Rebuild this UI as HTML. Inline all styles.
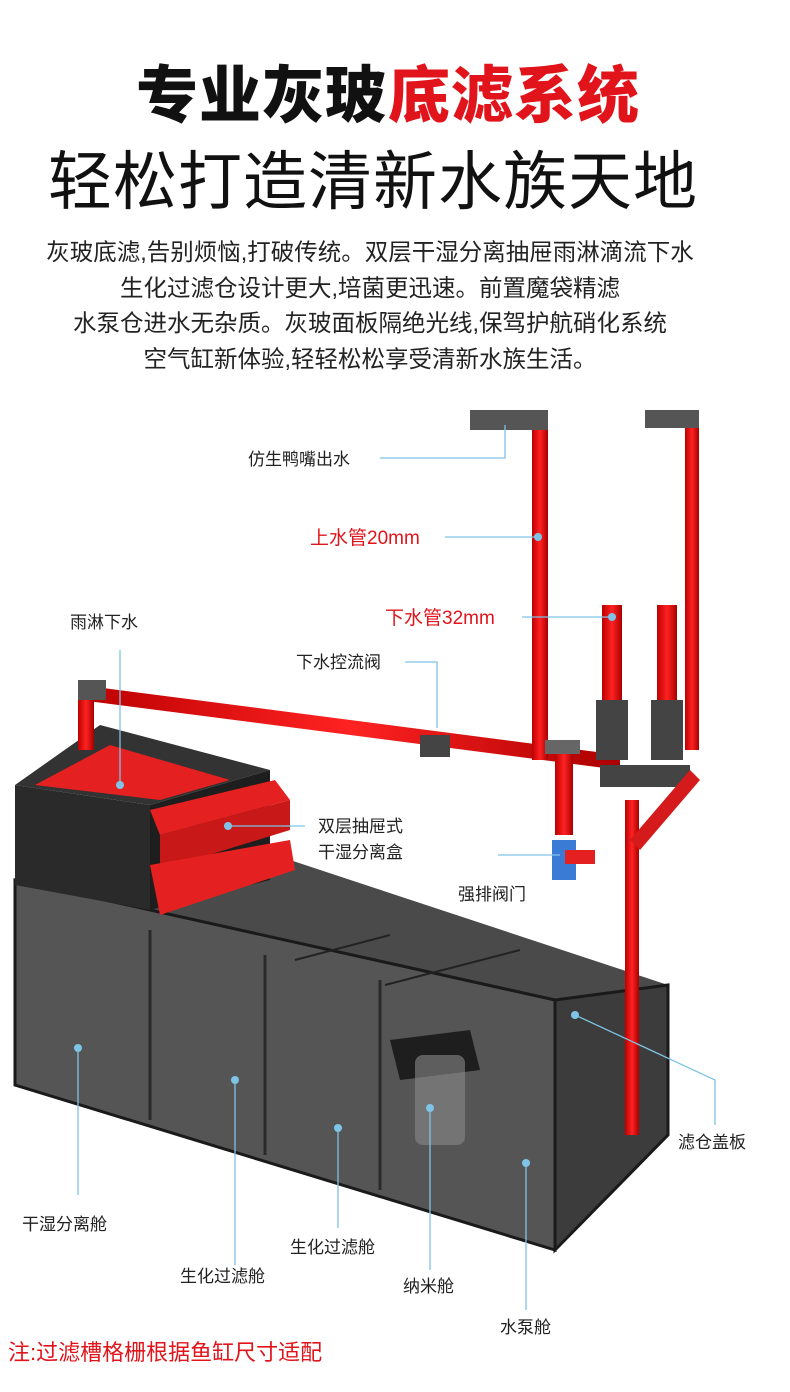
<!DOCTYPE html>
<html><head><meta charset="utf-8">
<style>
html,body{margin:0;padding:0;background:#fff;}
body{width:790px;height:1392px;position:relative;overflow:hidden;font-family:"Liberation Sans","Noto Sans CJK SC",sans-serif;}
.t1{position:absolute;top:62px;left:0;width:776px;text-align:center;font-size:62px;line-height:70px;font-weight:900;letter-spacing:1px;color:#111;}
.t1 span{color:#e0141a;}
.t2{position:absolute;top:144px;left:0;width:746px;text-align:center;font-size:64px;line-height:76px;color:#111;letter-spacing:1px;}
.p{position:absolute;left:0;width:740px;text-align:center;font-size:23.5px;color:#222;}
svg{position:absolute;left:0;top:0;}
</style></head><body>
<div class="t1">专业灰玻<span>底滤系统</span></div>
<div class="t2">轻松打造清新水族天地</div>
<div class="p" style="top:233px">灰玻底滤,告别烦恼,打破传统。双层干湿分离抽屉雨淋滴流下水</div>
<div class="p" style="top:269px">生化过滤仓设计更大,培菌更迅速。前置魔袋精滤</div>
<div class="p" style="top:304px">水泵仓进水无杂质。灰玻面板隔绝光线,保驾护航硝化系统</div>
<div class="p" style="top:340px">空气缸新体验,轻轻松松享受清新水族生活。</div>

<svg width="790" height="1392" viewBox="0 0 790 1392">
<defs>
<linearGradient id="r" x1="0" x2="1"><stop offset="0" stop-color="#b00"/><stop offset=".5" stop-color="#f22"/><stop offset="1" stop-color="#a00"/></linearGradient>
</defs>
<polygon points="15,880 290,860 668,985 555,1000" fill="#4a4a4a"/>
<polygon points="15,880 555,1000 555,1250 15,1085" fill="#555"/>
<polygon points="555,1000 668,985 668,1135 555,1250" fill="#3c3c3c"/>
<polygon points="15,880 555,1000 555,1250 15,1085" fill="none" stroke="#1a1a1a" stroke-width="3"/>
<polygon points="555,1000 668,985 668,1135 555,1250" fill="none" stroke="#1a1a1a" stroke-width="3"/>
<line x1="150" y1="930" x2="150" y2="1120" stroke="#2a2a2a" stroke-width="3"/>
<line x1="265" y1="955" x2="265" y2="1155" stroke="#2a2a2a" stroke-width="3"/>
<line x1="380" y1="980" x2="380" y2="1190" stroke="#2a2a2a" stroke-width="3"/>
<line x1="295" y1="960" x2="390" y2="935" stroke="#222" stroke-width="2"/>
<line x1="385" y1="985" x2="520" y2="950" stroke="#222" stroke-width="2"/>
<polygon points="390,1040 470,1030 480,1070 400,1080" fill="#1e1e1e"/>
<rect x="415" y="1055" width="50" height="90" rx="8" fill="#888" opacity=".6"/>
<polygon points="15,785 100,725 270,770 150,805" fill="#333"/>
<polygon points="15,785 150,805 150,910 15,885" fill="#2a2a2a"/>
<polygon points="150,805 270,770 270,880 150,910" fill="#1e1e1e"/>
<polygon points="35,785 110,745 230,780 160,800" fill="#e52020"/>
<polygon points="150,810 275,780 290,800 160,835" fill="#e52020"/>
<polygon points="160,835 290,800 290,830 160,870" fill="#c81818"/>
<polygon points="150,865 290,840 295,870 160,915" fill="#e52020"/>
<polygon points="80,685 620,755 620,770 80,700" fill="url(#r)"/>
<rect x="78" y="685" width="16" height="65" fill="url(#r)"/>
<rect x="78" y="680" width="28" height="20" fill="#555"/>
<rect x="532" y="425" width="16" height="335" fill="url(#r)"/>
<rect x="470" y="410" width="78" height="20" fill="#555"/>
<rect x="685" y="420" width="14" height="330" fill="url(#r)"/>
<rect x="645" y="410" width="54" height="18" fill="#555"/>
<rect x="602" y="605" width="20" height="100" fill="url(#r)"/>
<rect x="657" y="605" width="20" height="100" fill="url(#r)"/>
<rect x="596" y="700" width="32" height="60" fill="#444"/>
<rect x="651" y="700" width="32" height="60" fill="#444"/>
<rect x="600" y="765" width="90" height="22" fill="#444"/>
<rect x="625" y="800" width="14" height="335" fill="url(#r)"/>
<polygon points="630,840 690,770 700,780 640,850" fill="#d41a1a"/>
<rect x="555" y="745" width="18" height="90" fill="url(#r)"/>
<rect x="545" y="740" width="35" height="14" fill="#666"/>
<rect x="552" y="840" width="24" height="40" fill="#3a7bd5"/>
<rect x="565" y="850" width="30" height="14" fill="#e52020"/>
<rect x="420" y="735" width="30" height="22" fill="#444"/>
<g stroke="#7fc4e6" stroke-width="1.3" fill="none">
<polyline points="380,458 505,458 505,425"/>
<line x1="445" y1="537" x2="538" y2="537"/>
<line x1="522" y1="617" x2="612" y2="617"/>
<polyline points="405,662 437,662 437,728"/>
<line x1="120" y1="650" x2="120" y2="785"/>
<line x1="228" y1="826" x2="305" y2="826"/>
<polyline points="498,855 560,855"/>
<polyline points="575,1015 715,1080 715,1125"/>
<line x1="78" y1="1048" x2="78" y2="1195"/>
<line x1="235" y1="1080" x2="235" y2="1265"/>
<line x1="338" y1="1128" x2="338" y2="1228"/>
<line x1="430" y1="1108" x2="430" y2="1270"/>
<line x1="526" y1="1163" x2="526" y2="1310"/>
</g>
<g fill="#7fc4e6"><circle cx="538" cy="537" r="4"/><circle cx="612" cy="617" r="4"/><circle cx="120" cy="785" r="4"/><circle cx="228" cy="826" r="4"/><circle cx="575" cy="1015" r="4"/><circle cx="78" cy="1048" r="4"/><circle cx="235" cy="1080" r="4"/><circle cx="338" cy="1128" r="4"/><circle cx="430" cy="1108" r="4"/><circle cx="526" cy="1163" r="4"/></g>
<g font-family="Liberation Sans, Noto Sans CJK SC, sans-serif" font-size="17" fill="#222">
<text x="248" y="465">仿生鸭嘴出水</text>
<text x="310" y="544" fill="#e0141a" font-size="19">上水管20mm</text>
<text x="385" y="624" fill="#e0141a" font-size="19">下水管32mm</text>
<text x="70" y="628">雨淋下水</text>
<text x="296" y="668">下水控流阀</text>
<text x="318" y="832">双层抽屉式</text>
<text x="318" y="858">干湿分离盒</text>
<text x="458" y="900">强排阀门</text>
<text x="678" y="1148">滤仓盖板</text>
<text x="22" y="1230">干湿分离舱</text>
<text x="290" y="1253">生化过滤舱</text>
<text x="180" y="1282">生化过滤舱</text>
<text x="403" y="1292">纳米舱</text>
<text x="500" y="1333">水泵舱</text>
<text x="8" y="1360" fill="#e0141a" font-size="22">注:过滤槽格栅根据鱼缸尺寸适配</text>
</g>
</svg>
</body></html>
